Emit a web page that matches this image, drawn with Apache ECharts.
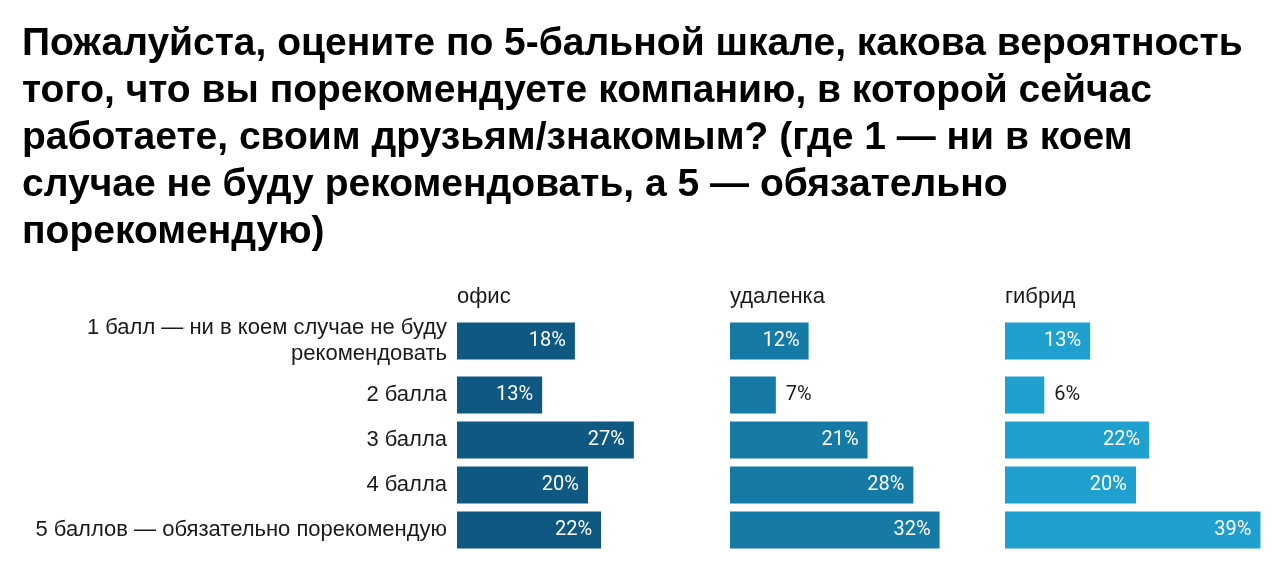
<!DOCTYPE html>
<html>
<head>
<meta charset="UTF-8">
<title>Рекомендация компании</title>
<script type="text/javascript" src="https://cdn.jsdelivr.net/npm/echarts@6.0.0/dist/echarts.min.js"></script>
<style>
  html, body { margin: 0; padding: 0; background: #fff; }
</style>
</head>
<body>
<div id="chart" style="width:1280px; height:586px"></div>
<script type="text/javascript">
// данные
var titleLines = [
    'Пожалуйста, оцените по 5-бальной шкале, какова вероятность',
    'того, что вы порекомендуете компанию, в которой сейчас',
    'работаете, своим друзьям/знакомым? (где 1 — ни в коем',
    'случае не буду рекомендовать, а 5 — обязательно',
    'порекомендую)'
];
var categories = [
    '1 балл — ни в коем случае не буду\nрекомендовать',
    '2 балла',
    '3 балла',
    '4 балла',
    '5 баллов — обязательно порекомендую'
];
var panels = ['офис', 'удаленка', 'гибрид'];
var office = [18, 13, 27, 20, 22];
var remote = [12, 7, 21, 28, 32];
var hybrid = [13, 6, 22, 20, 39];

var values = [office, remote, hybrid];
var colors = ['#0e5882', '#157aa5', '#1fa0cf'];
var panelLeft = [457, 730, 1005];
var panelWidth = 262;
var textFont = '"Liberation Sans", Arial, sans-serif';
// первая строка с двухстрочной подписью стоит отдельно
var parts = [
    { from: 0, to: 1, top: 318.5, height: 45 },
    { from: 1, to: 5, top: 372.5, height: 180 }
];

var myChart = echarts.init(document.getElementById('chart'));

var grids = [], xAxes = [], yAxes = [], series = [];
var titles = [{
    text: titleLines.join('\n'),
    left: 17,
    top: 16,
    textStyle: {
        fontFamily: textFont,
        fontWeight: 'bold',
        fontSize: 39,
        lineHeight: 47,
        color: '#000'
    }
}];

panels.forEach(function (name, p) {
    titles.push({
        text: name,
        left: panelLeft[p] - 5,
        top: 281,
        textStyle: { fontFamily: textFont, fontWeight: 'normal', fontSize: 22, color: '#1a1a1a' }
    });
    parts.forEach(function (part) {
        var idx = grids.length;
        grids.push({ left: panelLeft[p], width: panelWidth, top: part.top, height: part.height });
        xAxes.push({
            gridIndex: idx, type: 'value', min: 0, max: 40,
            show: false
        });
        yAxes.push({
            gridIndex: idx, type: 'category', inverse: true,
            data: categories.slice(part.from, part.to),
            axisLine: { show: false }, axisTick: { show: false },
            axisLabel: {
                show: p === 0,
                margin: 10,
                fontFamily: textFont,
                fontSize: 22,
                lineHeight: 26,
                color: '#1a1a1a',
                align: 'right'
            }
        });
        series.push({
            type: 'bar',
            xAxisIndex: idx,
            yAxisIndex: idx,
            barWidth: 37,
            itemStyle: { color: colors[p] },
            label: {
                show: true,
                position: 'insideRight',
                distance: 9,
                formatter: '{c}%',
                fontFamily: 'Roboto',
                fontSize: 20,
                color: '#fff'
            },
            data: values[p].slice(part.from, part.to).map(function (v) {
                if (v < 10) {
                    return { value: v, label: { position: 'right', distance: 10, color: '#1a1a1a' } };
                }
                return v;
            })
        });
    });
});

myChart.setOption({
    backgroundColor: '#fff',
    animation: false,
    title: titles,
    grid: grids,
    xAxis: xAxes,
    yAxis: yAxes,
    series: series
});
</script>
</body>
</html>
